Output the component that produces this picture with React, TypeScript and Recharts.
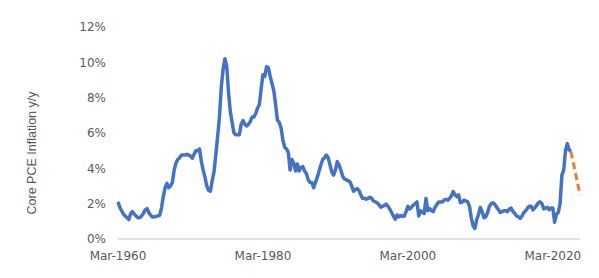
import React from 'react';
import { LineChart, Line, XAxis, YAxis } from 'recharts';

// Quarterly core PCE inflation y/y (%), Mar/Jun/Sep/Dec of each year, starting Mar-1960
const pce1960s = [
  2.1, 1.8, 1.6, 1.4,
  1.3, 1.2, 1.1, 1.45,
  1.55, 1.4, 1.3, 1.2,
  1.2, 1.3, 1.45, 1.65,
  1.72, 1.5, 1.35, 1.25,
  1.25, 1.28, 1.3, 1.35,
  1.75, 2.4, 2.9, 3.15,
  2.9, 3.0, 3.2, 3.9,
  4.3, 4.5, 4.6, 4.75,
  4.75, 4.75, 4.8, 4.75,
];
const pce1970s = [
  4.7, 4.57, 4.8, 5.0,
  5.0, 5.1, 4.4, 3.9,
  3.5, 3.0, 2.75, 2.7,
  3.3, 3.8, 4.8, 5.8,
  6.9, 8.6, 9.6, 10.2,
  9.8, 8.3, 7.2, 6.6,
  6.0, 5.9, 5.9, 5.9,
  6.5, 6.7, 6.5, 6.4,
  6.5, 6.64, 6.9, 6.9,
  7.1, 7.4, 7.6, 8.5,
];
const pce1980s = [
  9.3, 9.2, 9.75, 9.7,
  9.2, 8.8, 8.4, 7.6,
  6.73, 6.6, 6.3, 5.6,
  5.2, 5.1, 4.9, 3.9,
  4.5, 4.3, 3.85, 4.25,
  3.85, 4.05, 4.1, 3.85,
  3.7, 3.35, 3.2, 3.2,
  2.9, 3.2, 3.5, 3.85,
  4.2, 4.5, 4.6, 4.75,
  4.6, 4.2, 3.8, 3.62,
];
const pce1990s = [
  3.9, 4.38, 4.2, 3.9,
  3.55, 3.4, 3.35, 3.3,
  3.24, 3.0, 2.7, 2.8,
  2.85, 2.75, 2.5, 2.3,
  2.3, 2.25, 2.3, 2.36,
  2.3, 2.15, 2.1, 2.05,
  1.95, 1.8, 1.85, 1.9,
  1.98, 1.85, 1.7, 1.5,
  1.3, 1.12, 1.36, 1.25,
  1.33, 1.28, 1.3, 1.55,
];
const pce2000s = [
  1.85, 1.7, 1.8, 1.92,
  2.0, 2.1, 1.3, 1.6,
  1.5, 1.45, 2.3, 1.6,
  1.72, 1.6, 1.55, 1.8,
  1.95, 2.1, 2.1, 2.1,
  2.2, 2.25, 2.2, 2.3,
  2.45, 2.68, 2.5, 2.4,
  2.5, 2.05, 2.1, 2.2,
  2.15, 2.1, 1.85, 1.2,
  0.75, 0.6, 1.1, 1.4,
];
const pce2010s = [
  1.79, 1.55, 1.2, 1.25,
  1.5, 1.85, 2.0, 2.05,
  1.95, 1.8, 1.65, 1.5,
  1.55, 1.6, 1.6, 1.55,
  1.7, 1.75, 1.55, 1.45,
  1.3, 1.25, 1.17, 1.3,
  1.5, 1.6, 1.74, 1.85,
  1.85, 1.65, 1.75, 1.9,
  2.05, 2.1, 2.0, 1.7,
  1.75, 1.8, 1.65, 1.75,
];
const pce2020s = [
  1.75, 0.95, 1.4, 1.5,
  2.0, 3.6, 3.9, 5.0,
  5.4, 5.05, 4.95,
];
// Projection, quarterly from Sep-2022 to Dec-2023
const projection = [4.95, 4.46, 3.97, 3.48, 2.99, 2.5];

const startYear = 1960;
const monthsPerStep = 3;
const xTicks = [0, 240, 480, 720];
const yTicks = [0, 2, 4, 6, 8, 10, 12];

const actual = [...pce1960s, ...pce1970s, ...pce1980s, ...pce1990s, ...pce2000s, ...pce2010s, ...pce2020s];

type Row = { t: number; actual?: number; projection?: number };
const data: Row[] = actual.map((v, i) => ({ t: i * monthsPerStep, actual: v }));
const projStart = (actual.length - 1) * monthsPerStep;
projection.forEach((v, i) => {
  if (i === 0) data[data.length - 1].projection = v;
  else data.push({ t: projStart + i * monthsPerStep, projection: v });
});
const lastT = data[data.length - 1].t;

const fmtX = (t: number) => `Mar-${startYear + Math.round(t / 12)}`;
const fmtY = (v: number) => `${v}%`;

const tickStyle = { fill: '#595959', fontSize: 12, fontFamily: 'DejaVu Sans' };

const YLabel = (props: any) => {
  const vb = props.viewBox || { x: 0, y: 0, height: 0 };
  const cx = vb.x + 24;
  const cy = vb.y + vb.height / 2 + 20;
  return (
    <text
      x={cx}
      y={cy}
      transform={`rotate(-90 ${cx} ${cy})`}
      textAnchor="middle"
      dominantBaseline="central"
      fill="#595959"
      fontSize={12.5}
      fontFamily="Liberation Sans"
    >
      Core PCE Inflation y/y
    </text>
  );
};

export default function App() {
  return (
    <LineChart width={591} height={270} data={data} margin={{ top: 19, right: 19, bottom: 9, left: 0 }}>
      <XAxis
        dataKey="t"
        type="number"
        domain={[0, lastT]}
        ticks={xTicks}
        tickFormatter={fmtX}
        interval={0}
        axisLine={{ stroke: '#d9d9d9', strokeWidth: 1.5 }}
        tickLine={false}
        tickMargin={6}
        height={30}
        tick={tickStyle}
      />
      <YAxis
        type="number"
        domain={[0, 12]}
        ticks={yTicks}
        tickFormatter={fmtY}
        axisLine={false}
        tickLine={false}
        tickMargin={6}
        width={110}
        tick={tickStyle}
        label={<YLabel />}
      />
      <Line
        type="linear"
        dataKey="actual"
        stroke="#4472c4"
        strokeWidth={3.5}
        strokeLinejoin="round"
        dot={false}
        isAnimationActive={false}
      />
      <Line
        type="linear"
        dataKey="projection"
        stroke="#ed7d31"
        strokeWidth={3}
        strokeDasharray="7 4"
        dot={false}
        isAnimationActive={false}
      />
    </LineChart>
  );
}
